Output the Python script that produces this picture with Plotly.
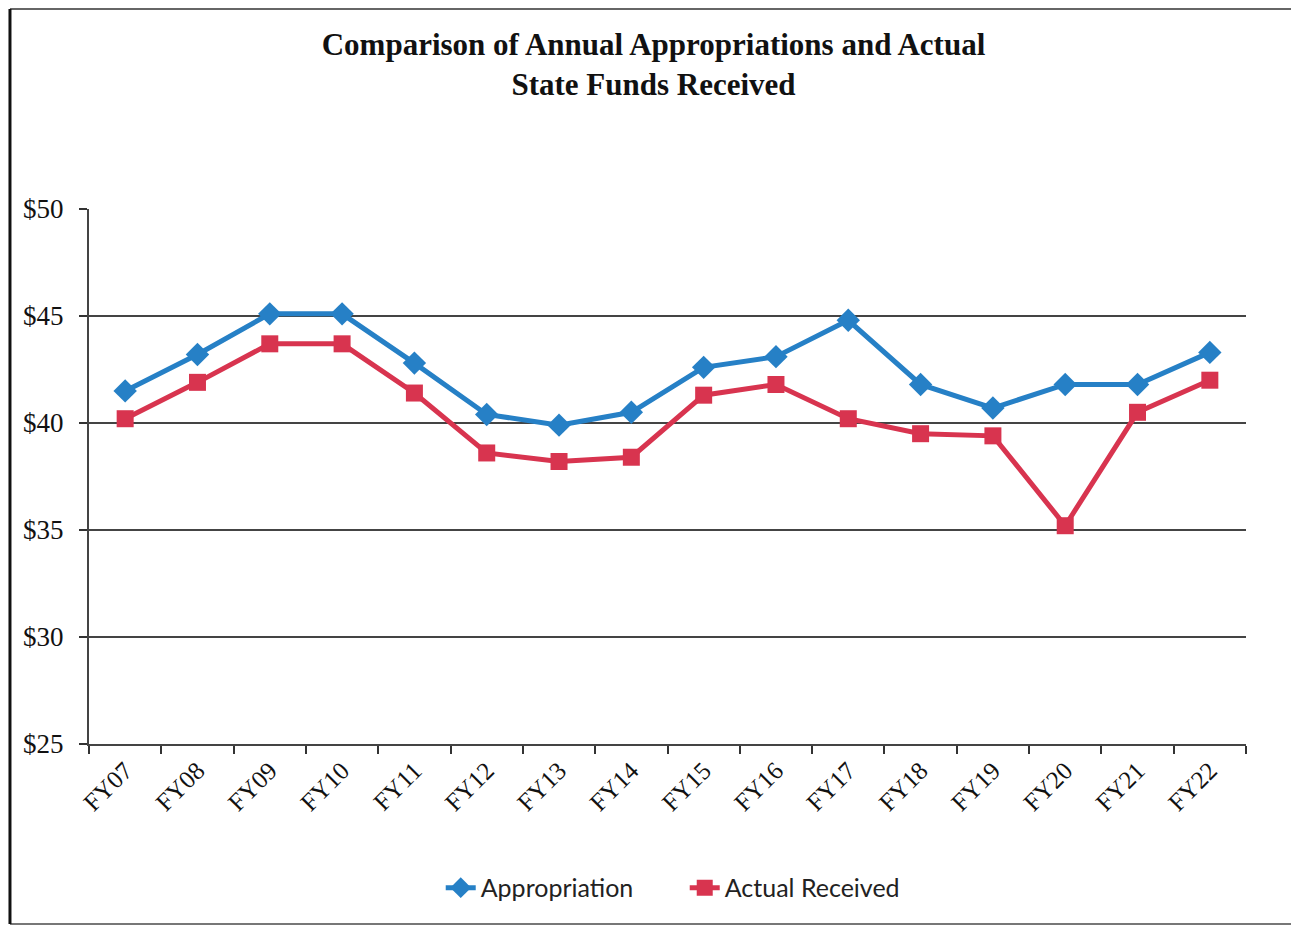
import plotly.graph_objects as go

categories = ["FY07", "FY08", "FY09", "FY10", "FY11", "FY12", "FY13", "FY14",
              "FY15", "FY16", "FY17", "FY18", "FY19", "FY20", "FY21", "FY22"]
appropriation = [41.5, 43.2, 45.1, 45.1, 42.8, 40.4, 39.9, 40.5,
                 42.6, 43.1, 44.8, 41.8, 40.7, 41.8, 41.8, 43.3]
actual_received = [40.2, 41.9, 43.7, 43.7, 41.4, 38.6, 38.2, 38.4,
                   41.3, 41.8, 40.2, 39.5, 39.4, 35.2, 40.5, 42.0]
y_ticks = [25, 30, 35, 40, 45, 50]
y_tick_labels = ["$25", "$30", "$35", "$40", "$45", "$50"]

fig = go.Figure()
fig.add_trace(go.Scatter(
    x=categories, y=appropriation, name="Appropriation", mode="lines+markers",
    line=dict(color="#2680C6", width=5),
    marker=dict(symbol="diamond", size=18, color="#2680C6"),
))
fig.add_trace(go.Scatter(
    x=categories, y=actual_received, name="Actual Received", mode="lines+markers",
    line=dict(color="#D8344F", width=5),
    marker=dict(symbol="square", size=17, color="#D8344F"),
))

def border(x0, y0, x1, y1, color, width):
    return dict(type="line", xref="paper", yref="paper",
                x0=x0, y0=y0, x1=x1, y1=y1,
                line=dict(color=color, width=width))

L, R, T, B = -0.0683, 1.0441, 1.3738, -0.3364

fig.update_layout(
    width=1291, height=918,
    margin=dict(l=81, r=53, t=201, b=182),
    paper_bgcolor="white", plot_bgcolor="white",
    title=dict(
        text="<b>Comparison of Annual Appropriations and Actual<br>State Funds Received</b>",
        x=0.5, xanchor="center", y=0.949, yanchor="top",
        font=dict(family="Liberation Serif", size=31, color="#111"),
    ),
    showlegend=True,
    legend=dict(
        orientation="h", x=0.304, xanchor="left", y=-0.269, yanchor="middle",
        font=dict(family="Lato", size=25, color="#222"),
        entrywidth=199, entrywidthmode="pixels",
        traceorder="normal",
    ),
    xaxis=dict(
        type="category", tickangle=-45, tickson="boundaries",
        ticks="outside", ticklen=8, tickcolor="#333", tickwidth=2,
        showline=True, linecolor="#444", linewidth=2,
        showgrid=False,
        tickfont=dict(family="Liberation Serif", size=25, color="#111"),
        range=[-0.5, 15.5],
    ),
    yaxis=dict(
        range=[25, 50], tickvals=y_ticks, ticktext=y_tick_labels,
        ticks="outside", ticklen=8, tickcolor="#333", tickwidth=2,
        showline=True, linecolor="#444", linewidth=2,
        showgrid=True, gridcolor="#444", gridwidth=2,
        zeroline=False, ticklabelstandoff=10,
        tickfont=dict(family="Liberation Serif", size=27, color="#111"),
    ),
    shapes=[
        border(L, T, R, T, "#666", 2),
        border(L, B, R, B, "#777", 2),
        border(L, B, L, T, "#111", 3),
        border(R, B, R, T, "#aaa", 2),
    ],
)

fig.write_html("out.html")
